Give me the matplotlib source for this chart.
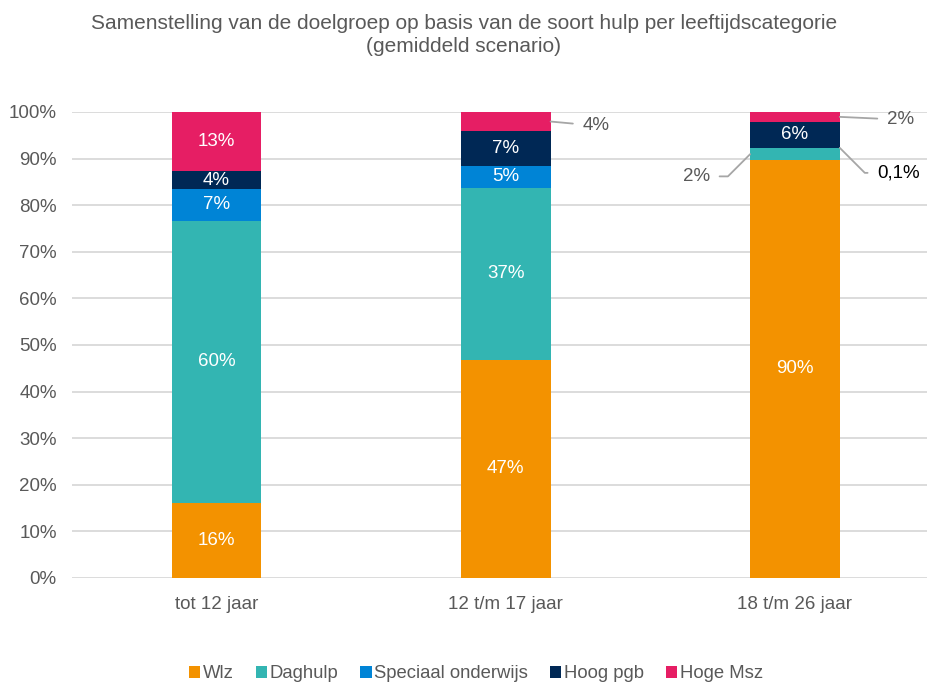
import matplotlib.pyplot as plt
import numpy as np

plt.rcParams['font.family'] = ['Liberation Sans', 'DejaVu Sans']

categories = ["tot 12 jaar", "12 t/m 17 jaar", "18 t/m 26 jaar"]
series = ["Wlz", "Daghulp", "Speciaal onderwijs", "Hoog pgb", "Hoge Msz"]
wlz = [16.2, 46.8, 89.7]
daghulp = [60.4, 36.9, 2.5]
speciaal = [6.9, 4.7, 0.1]
hoog_pgb = [3.8, 7.5, 5.6]
hoge_msz = [12.7, 4.1, 2.1]
labels = [
    ["16%", "60%", "7%", "4%", "13%"],
    ["47%", "37%", "5%", "7%", "4%"],
    ["90%", "2%", "0,1%", "6%", "2%"],
]
colors = ["#F39200", "#33B5B2", "#0084D6", "#002855", "#E61E64"]

grey = "#595959"
line_grey = "#A6A6A6"
fs = 13.5
values = np.array([wlz, daghulp, speciaal, hoog_pgb, hoge_msz])
x = np.arange(len(categories))
width = 0.31

# labels drawn outside the bar: (bar, series) -> offset in points
outside = {
    (1, 4): (23, -3),
    (2, 4): (34, -2),
    (2, 1): (-29, -16),
    (2, 2): (27, -18),
}

fig = plt.figure(figsize=(9.28, 6.82), dpi=100)
ax = fig.add_axes([0.0776, 0.1525, 0.9224, 0.6833])

bottom = np.zeros(len(categories))
for i, name in enumerate(series):
    ax.bar(x, values[i], width, bottom=bottom, color=colors[i], label=name, zorder=3)
    bottom += values[i]

cum = np.vstack([np.zeros(len(categories)), np.cumsum(values, axis=0)])
for j in range(len(categories)):
    for i in range(len(series)):
        mid = (cum[i, j] + cum[i + 1, j]) / 2
        txt = labels[j][i]
        if (j, i) not in outside:
            ax.text(x[j], mid, txt, ha="center", va="center", color="white", fontsize=fs, zorder=4)
            continue
        off = outside[(j, i)]
        if i == 4:
            ax.annotate(txt, xy=(x[j] + width / 2, mid), xytext=off, textcoords="offset points",
                        ha="left", va="center", color=grey, fontsize=fs,
                        arrowprops=dict(arrowstyle="-", color=line_grey, lw=1.3, shrinkA=5, shrinkB=0))
        elif i == 1:
            ax.annotate(txt, xy=(x[j] - width / 2, mid), xytext=off, textcoords="offset points",
                        ha="right", va="center", color=grey, fontsize=fs,
                        arrowprops=dict(arrowstyle="-", color=line_grey, lw=1.3, shrinkA=5, shrinkB=0,
                                        connectionstyle="angle,angleA=0,angleB=45,rad=0"))
        else:
            ax.annotate(txt, xy=(x[j] + width / 2, cum[i + 1, j]), xytext=off, textcoords="offset points",
                        ha="left", va="center", color="black", fontsize=fs,
                        arrowprops=dict(arrowstyle="-", color=line_grey, lw=1.3, shrinkA=5, shrinkB=0,
                                        connectionstyle="angle,angleA=0,angleB=-45,rad=0"))

ax.set_ylim(0, 100)
ax.set_xlim(-0.5, 2.46)
ax.set_yticks(np.arange(0, 101, 10))
ax.set_yticklabels([f"{v}%" for v in range(0, 101, 10)])
ax.set_xticks(x)
ax.set_xticklabels(categories)
ax.tick_params(axis="both", length=0, labelsize=fs, labelcolor=grey)
ax.tick_params(axis="y", pad=11)
ax.tick_params(axis="x", pad=13)
ax.grid(axis="y", color="#D9D9D9", lw=1.3, zorder=0)
for s in ax.spines.values():
    s.set_visible(False)

fig.text(0.5, 0.949, "Samenstelling van de doelgroep op basis van de soort hulp per leeftijdscategorie\n(gemiddeld scenario)",
         ha="center", va="center", fontsize=15, color=grey, linespacing=1.25)

fig.legend(loc="center", bbox_to_anchor=(0.513, 0.012), ncol=5, frameon=False, fontsize=13.3,
           handlelength=0.6, handleheight=0.6, handletextpad=0.15, columnspacing=1.2, labelcolor=grey)

fig.savefig("out.png", dpi=100)
